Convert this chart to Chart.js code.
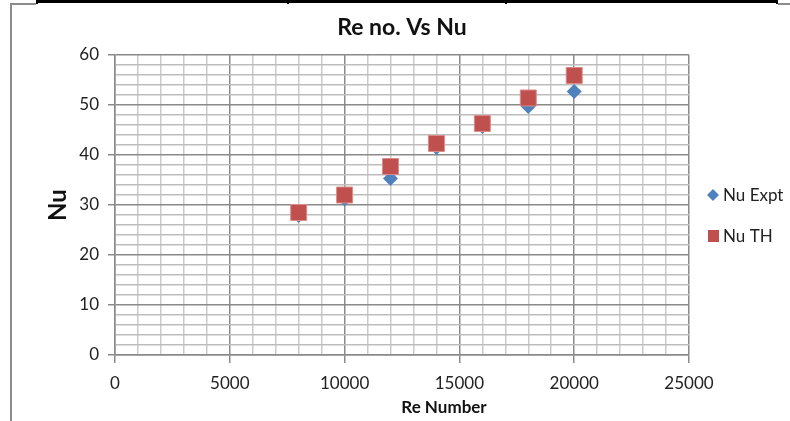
<!DOCTYPE html>
<html>
<head>
<meta charset="utf-8">
<title>Re no. Vs Nu</title>
<script src="https://cdn.jsdelivr.net/npm/chart.js@4/dist/chart.umd.min.js"></script>
<style>
  html, body { margin: 0; padding: 0; background: #fff; }
  canvas { display: block; }
</style>
</head>
<body>
<canvas id="nuChart" width="790" height="421"></canvas>
<script>
// Reynolds number vs Nusselt number, experimental and theoretical
var reNumbers = [8000, 10000, 12000, 14000, 16000, 18000, 20000];
var nuExpt = [27.9, 31.2, 35.3, 41.5, 45.7, 49.7, 52.7];
var nuTh = [28.5, 32.0, 37.7, 42.3, 46.3, 51.4, 55.9];
var seriesNames = ['Nu Expt', 'Nu TH'];
var xAxisTitle = 'Re Number';
var xLabelStep = 5000;   // labelled x ticks
var yLabelStep = 10;     // labelled y ticks

var BLUE = '#4f81bd';
var RED = '#c0504d';
var face = "Lato, 'Liberation Sans', sans-serif";

function toPoints(ys) {
    return reNumbers.map(function (x, i) { return { x: x, y: ys[i] }; });
}

function isMajor(value, step) {
    return Math.abs(value / step - Math.round(value / step)) < 1e-6;
}

// page frame, x axis caption and the legend beside the plot
var framePlugin = {
    id: 'frame',
    beforeDraw: function (chart) {
        var ctx = chart.ctx;
        ctx.save();
        ctx.fillStyle = '#fff';
        ctx.fillRect(0, 0, chart.width, chart.height);
        ctx.strokeStyle = '#8c8c8c';
        ctx.lineWidth = 2;
        ctx.beginPath();
        ctx.moveTo(11, 421);
        ctx.lineTo(11, 4);
        ctx.lineTo(36, 4);
        ctx.moveTo(778, 4);
        ctx.lineTo(790, 4);
        ctx.stroke();
        ctx.fillStyle = '#000';
        ctx.fillRect(36, 0, 742, 3);
        [36, 287, 505, 776].forEach(function (x) { ctx.fillRect(x, 0, 2, 4); });
        ctx.restore();
    },
    afterDraw: function (chart) {
        var ctx = chart.ctx;
        var rows = [
            { style: 'rectRot', color: BLUE, y: 195 },
            { style: 'rect', color: RED, y: 236 }
        ];
        ctx.save();
        ctx.textBaseline = 'middle';
        ctx.fillStyle = '#111';
        ctx.font = 'bold 17px ' + face;
        ctx.textAlign = 'center';
        ctx.fillText(xAxisTitle, 444, 408);

        rows.forEach(function (row, i) {
            ctx.fillStyle = row.color;
            ctx.beginPath();
            if (row.style === 'rectRot') {
                ctx.moveTo(713, row.y - 6);
                ctx.lineTo(719, row.y);
                ctx.lineTo(713, row.y + 6);
                ctx.lineTo(707, row.y);
                ctx.closePath();
            } else {
                ctx.rect(708, row.y - 6, 11, 12);
            }
            ctx.fill();
            ctx.fillStyle = '#222';
            ctx.font = '17px ' + face;
            ctx.textAlign = 'left';
            ctx.fillText(seriesNames[i], 723, row.y + 1);
        });
        ctx.restore();
    }
};

new Chart(document.getElementById('nuChart').getContext('2d'), {
    type: 'scatter',
    data: {
        datasets: [{
            label: seriesNames[0],
            data: toPoints(nuExpt),
            pointStyle: 'rectRot',
            pointRadius: 7.5,
            pointHoverRadius: 7.5,
            backgroundColor: BLUE,
            borderColor: BLUE,
            borderWidth: 0,
            order: 2
        }, {
            label: seriesNames[1],
            data: toPoints(nuTh),
            pointStyle: 'rect',
            pointRadius: 11.3,
            pointHoverRadius: 11.3,
            backgroundColor: RED,
            borderColor: '#d98c8a',
            borderWidth: 1,
            order: 1
        }]
    },
    options: {
        responsive: false,
        animation: false,
        devicePixelRatio: 1,
        layout: { padding: { left: 0, top: 0, right: 101, bottom: 0 } },
        plugins: {
            legend: { display: false },
            tooltip: { enabled: false },
            title: {
                display: true,
                fullSize: false,
                text: 'Re no. Vs Nu',
                color: '#111',
                font: { family: face, size: 23, weight: 'bold', lineHeight: 1.2 },
                padding: { top: 14, bottom: 13.4 }
            }
        },
        scales: {
            x: {
                type: 'linear',
                min: 0,
                max: 25000,
                afterFit: function (scale) { scale.height = 66; },
                ticks: {
                    stepSize: 1000,
                    autoSkip: false,
                    maxRotation: 0,
                    padding: 10,
                    color: '#222',
                    font: { family: face, size: 17 },
                    callback: function (v) { return isMajor(v, xLabelStep) ? String(v) : ''; }
                },
                grid: {
                    drawTicks: true,
                    tickLength: 8,
                    color: function (c) { return isMajor(c.tick.value, xLabelStep) ? '#8a8a8a' : '#cacaca'; },
                    tickColor: function (c) { return isMajor(c.tick.value, xLabelStep) ? '#8a8a8a' : 'rgba(0,0,0,0)'; },
                    lineWidth: 1.5
                },
                border: { color: '#8a8a8a', width: 1.5 }
            },
            y: {
                type: 'linear',
                min: 0,
                max: 60,
                afterFit: function (scale) { scale.width = 115; },
                ticks: {
                    stepSize: 2,
                    autoSkip: false,
                    padding: 9,
                    color: '#222',
                    font: { family: face, size: 17 },
                    callback: function (v) { return isMajor(v, yLabelStep) ? String(v) : ''; }
                },
                grid: {
                    drawTicks: true,
                    tickLength: 7,
                    color: function (c) { return isMajor(c.tick.value, yLabelStep) ? '#8a8a8a' : '#bdbdbd'; },
                    tickColor: function (c) { return isMajor(c.tick.value, yLabelStep) ? '#8a8a8a' : 'rgba(0,0,0,0)'; },
                    lineWidth: 1.5
                },
                border: { color: '#8a8a8a', width: 1.5 },
                title: {
                    display: true,
                    text: 'Nu',
                    color: '#111',
                    font: { family: face, size: 24, weight: 'bold', lineHeight: 1.2 },
                    padding: { top: 44, bottom: 0 }
                }
            }
        }
    },
    plugins: [framePlugin]
});
</script>
</body>
</html>
